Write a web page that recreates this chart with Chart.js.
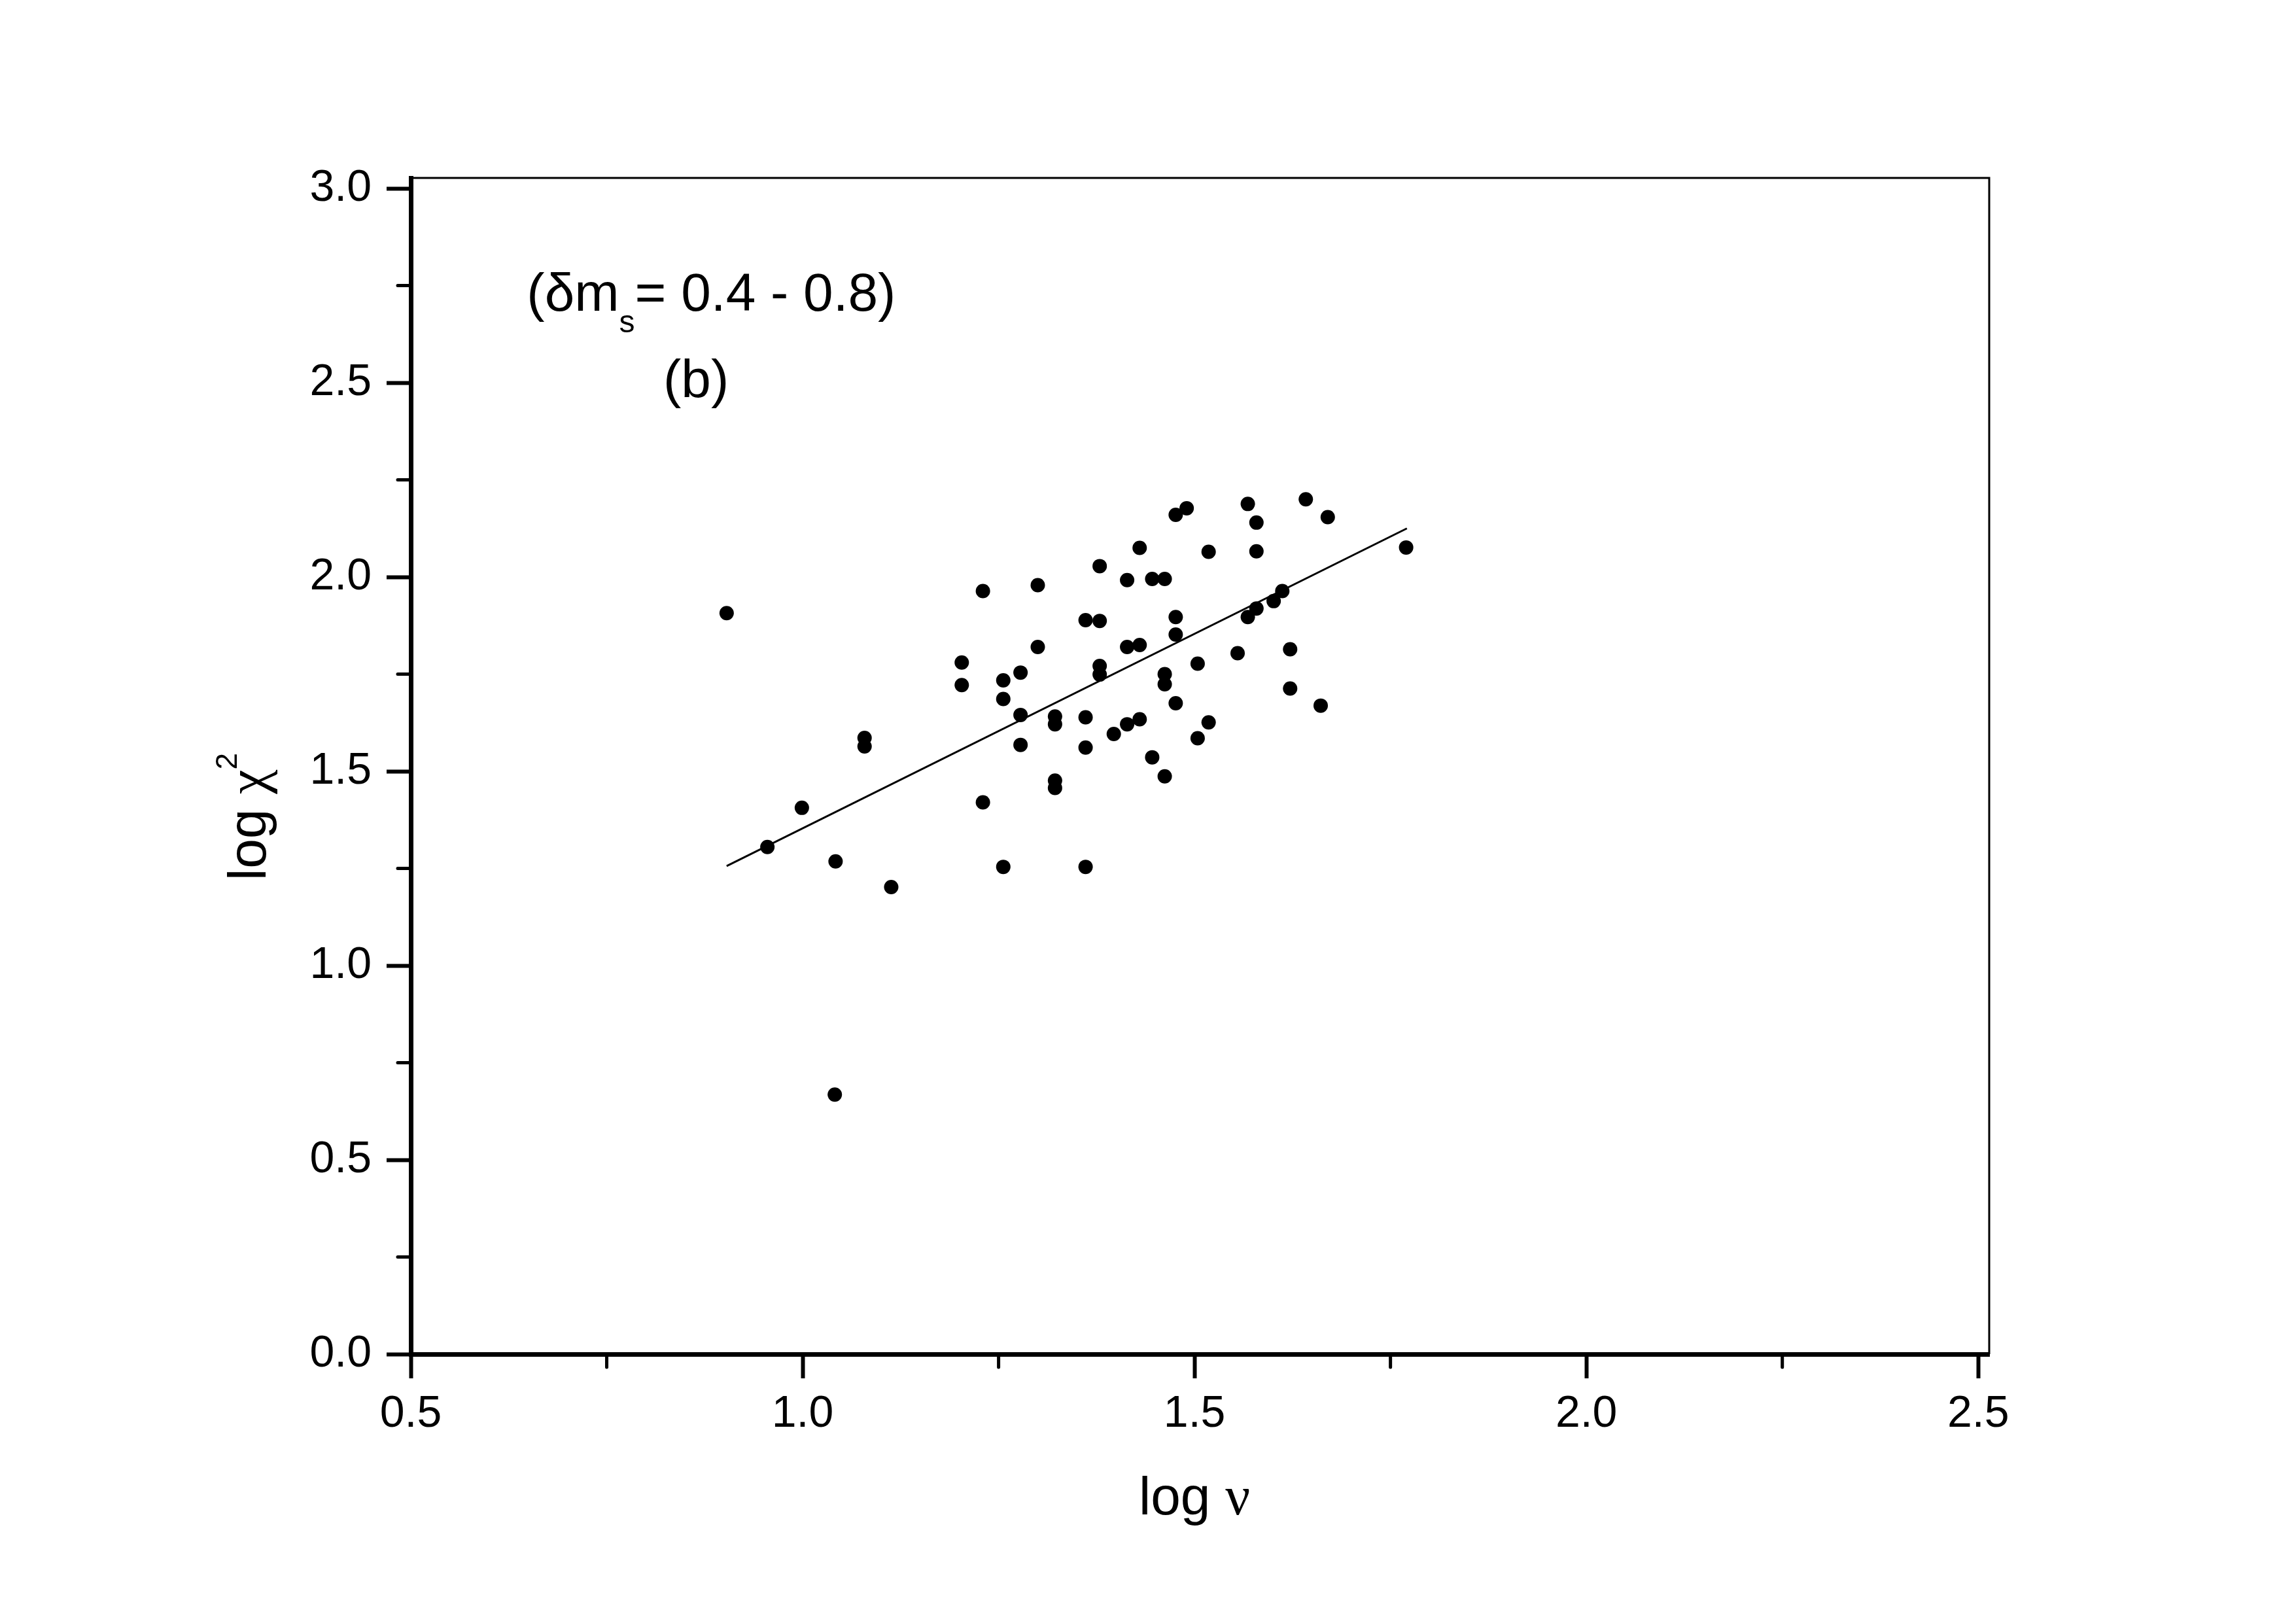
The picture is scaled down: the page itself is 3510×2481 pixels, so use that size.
<!DOCTYPE html>
<html lang="en">
<head>
<meta charset="UTF-8">
<title>log chi2 x log nu</title>
<script src="https://cdn.jsdelivr.net/npm/chart.js@4.4.1/dist/chart.umd.min.js"></script>
<style>
  body { margin: 0; background: #fff; }
  canvas { display: block; }
</style>
</head>
<body>
<canvas id="grafico" width="3510" height="2481"></canvas>
<script>
// pontos (b), dm_s = 0.4 - 0.8
const logNu = [0.903, 0.955, 0.999, 1.042, 1.113, 1.079, 1.079, 1.230, 1.203, 1.203,
  1.230, 1.256, 1.256, 1.256, 1.278, 1.278, 1.278, 1.300, 1.300, 1.322,
  1.322, 1.322, 1.322, 1.361, 1.361, 1.361, 1.361, 1.379, 1.379, 1.379,
  1.379, 1.397, 1.414, 1.414, 1.414, 1.430, 1.430, 1.430, 1.446, 1.446,
  1.462, 1.462, 1.462, 1.462, 1.476, 1.476, 1.476, 1.476, 1.490, 1.504,
  1.504, 1.518, 1.518, 1.555, 1.568, 1.568, 1.579, 1.579, 1.579, 1.601,
  1.612, 1.622, 1.622, 1.642, 1.661, 1.670, 1.770, 1.041];
const logChi2 = [1.907, 1.305, 1.406, 1.268, 1.202, 1.586, 1.564, 1.964, 1.780, 1.722,
  1.420, 1.734, 1.686, 1.254, 1.754, 1.645, 1.568, 1.979, 1.820, 1.641,
  1.621, 1.476, 1.457, 1.889, 1.639, 1.561, 1.254, 2.028, 1.887, 1.771,
  1.749, 1.596, 1.992, 1.820, 1.621, 2.075, 1.825, 1.634, 1.995, 1.536,
  1.995, 1.750, 1.724, 1.487, 2.160, 1.897, 1.852, 1.675, 2.177, 1.777,
  1.585, 2.065, 1.626, 1.804, 2.188, 1.897, 2.140, 2.066, 1.919, 1.938,
  1.964, 1.814, 1.713, 2.200, 1.669, 2.154, 2.076, 0.668];

// reta ajustada
const fitX = [0.903, 1.771];
const fitY = [1.256, 2.125];

const xTicks = [0.5, 1.0, 1.5, 2.0, 2.5];
const yTicks = [0.0, 0.5, 1.0, 1.5, 2.0, 2.5, 3.0];
const xMinor = [0.75, 1.25, 1.75, 2.25];
const yMinor = [0.25, 0.75, 1.25, 1.75, 2.25, 2.75];

const sans = "'Liberation Sans', Arial, sans-serif";
const serif = "'Liberation Serif', 'Times New Roman', serif";

// desenha pedacos de texto em sequencia (fonte diferente, deslocamento vertical)
function escreverPartes(ctx, x, y, partes) {
  partes.forEach(p => {
    ctx.font = p.font;
    ctx.fillText(p.t, x, y + (p.dy || 0));
    x += ctx.measureText(p.t).width;
  });
}

function larguraPartes(ctx, partes) {
  let w = 0;
  partes.forEach(p => { ctx.font = p.font; w += ctx.measureText(p.t).width; });
  return w;
}

const moldura = {
  id: 'moldura',
  afterDraw(chart) {
    const ctx = chart.ctx;
    const a = chart.chartArea;
    const sx = chart.scales.x;
    const sy = chart.scales.y;
    ctx.save();
    ctx.strokeStyle = '#000';
    ctx.fillStyle = '#000';

    // borda de cima e da direita
    ctx.lineWidth = 3;
    ctx.beginPath();
    ctx.moveTo(a.left, a.top);
    ctx.lineTo(a.right, a.top);
    ctx.lineTo(a.right, a.bottom);
    ctx.stroke();

    // ticks menores
    ctx.lineWidth = 5;
    ctx.lineCap = 'round';
    ctx.beginPath();
    xMinor.forEach(v => {
      const p = sx.getPixelForValue(v);
      ctx.moveTo(p, a.bottom);
      ctx.lineTo(p, a.bottom + 20);
    });
    yMinor.forEach(v => {
      const p = sy.getPixelForValue(v);
      ctx.moveTo(a.left - 20, p);
      ctx.lineTo(a.left, p);
    });
    ctx.stroke();

    ctx.textAlign = 'left';
    ctx.textBaseline = 'alphabetic';

    // anotacao
    const big = '82px ' + sans;
    escreverPartes(ctx, sx.getPixelForValue(0.648), sy.getPixelForValue(2.685), [
      { t: '(\u03b4m', font: big },
      { t: 's', font: '48px ' + sans, dy: 33 },
      { t: '= 0.4 - 0.8)', font: big }
    ]);
    ctx.font = big;
    ctx.textAlign = 'center';
    ctx.fillText('(b)', sx.getPixelForValue(0.864), sy.getPixelForValue(2.463));
    ctx.textAlign = 'left';

    // titulo do eixo x
    const tx = [
      { t: 'log ', font: '82px ' + sans },
      { t: '\u03bd', font: '84px ' + serif }
    ];
    const wx = larguraPartes(ctx, tx);
    escreverPartes(ctx, (a.left + sx.getPixelForValue(2.5)) / 2 - wx / 2, a.bottom + 245, tx);

    // titulo do eixo y
    ctx.translate(a.left - 222, 1346);
    ctx.rotate(-Math.PI / 2);
    escreverPartes(ctx, 0, 0, [
      { t: 'log ', font: '82px ' + sans },
      { t: '\u03c7', font: '84px ' + serif },
      { t: '2', font: '46px ' + sans, dy: -44 }
    ]);
    ctx.restore();
  }
};

function eixo(ticksLista, tamanho, horizontal) {
  return {
    type: 'linear',
    afterBuildTicks: s => { s.ticks = ticksLista.map(v => ({ value: v })); },
    afterFit: s => { if (horizontal) s.height = tamanho; else s.width = tamanho; },
    grid: { drawOnChartArea: false, drawTicks: true, tickLength: 37, tickWidth: 6, tickColor: '#000' },
    border: { display: true, color: '#000', width: 7 },
    ticks: {
      color: '#000',
      font: { family: sans, size: 68 },
      padding: horizontal ? 14 : 23,
      maxRotation: 0,
      autoSkip: false,
      callback: v => Number(v).toFixed(1)
    }
  };
}

const eixoX = eixo(xTicks, 411, true);
eixoX.min = 0.5;
eixoX.max = 2.514;
const eixoY = eixo(yTicks, 628, false);
eixoY.min = 0;
eixoY.max = 3.027;

const ctx = document.getElementById('grafico').getContext('2d');
new Chart(ctx, {
  data: {
    datasets: [
      {
        type: 'scatter',
        data: logNu.map((x, i) => ({ x: x, y: logChi2[i] })),
        pointRadius: 11,
        pointBackgroundColor: '#000',
        pointBorderWidth: 0
      },
      {
        type: 'line',
        data: fitX.map((x, i) => ({ x: x, y: fitY[i] })),
        borderColor: '#000',
        borderWidth: 3,
        pointRadius: 0,
        fill: false
      }
    ]
  },
  options: {
    responsive: false,
    animation: false,
    layout: { padding: { top: 272, right: 469, bottom: 0, left: 0 } },
    plugins: { legend: { display: false }, tooltip: { enabled: false } },
    scales: { x: eixoX, y: eixoY }
  },
  plugins: [moldura]
});
</script>
</body>
</html>
